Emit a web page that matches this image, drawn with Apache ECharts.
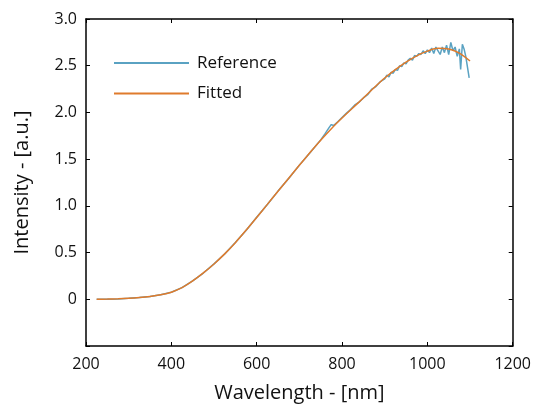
<!DOCTYPE html>
<html>
<head>
<meta charset="utf-8">
<script src="https://cdn.jsdelivr.net/npm/echarts@6/dist/echarts.min.js"></script>
<style>html,body{margin:0;padding:0;background:#fff}#c{width:534px;height:408px}</style>
</head>
<body>
<div id="c"></div>
<script>
var xTicks = [200, 400, 600, 800, 1000, 1200];
var yTicks = [-0.5, 0, 0.5, 1.0, 1.5, 2.0, 2.5, 3.0];

var fittedWl = [225,250,275,300,325,350,375,400,425,450,475,500,525,550,575,600,625,650,675,700,725,750,775,800,825,850,875,900,925,950,975,1000,1025,1050,1075,1100];
var fittedVal = [0.000,0.002,0.005,0.010,0.018,0.030,0.048,0.076,0.124,0.196,0.282,0.378,0.486,0.606,0.738,0.876,1.016,1.156,1.295,1.434,1.570,1.702,1.826,1.940,2.048,2.154,2.264,2.368,2.458,2.538,2.606,2.656,2.686,2.680,2.635,2.550];

var refWl = [225,250,275,300,325,350,375,400,425,450,475,500,525,550,575,600,625,650,675,700,725,750,760,770,775,780,790,800,810,820,830,840,850,860,870,880,890,900,905,910,915,920,925,930,935,940,945,950,955,960,965,970,975,980,985,990,995,1000,1005,1010,1015,1020,1025,1030,1035,1040,1045,1050,1055,1060,1065,1070,1075,1078,1082,1086,1090,1094,1098];
var refVal = [0.000,0.001,0.004,0.010,0.018,0.031,0.048,0.075,0.125,0.197,0.281,0.379,0.485,0.608,0.737,0.878,1.014,1.158,1.293,1.436,1.568,1.706,1.770,1.840,1.870,1.860,1.900,1.945,1.990,2.030,2.080,2.110,2.155,2.190,2.250,2.280,2.330,2.360,2.400,2.380,2.430,2.420,2.460,2.450,2.500,2.490,2.530,2.520,2.560,2.580,2.560,2.610,2.600,2.630,2.620,2.660,2.630,2.670,2.640,2.690,2.630,2.700,2.660,2.620,2.700,2.640,2.720,2.620,2.750,2.660,2.700,2.600,2.680,2.460,2.730,2.680,2.600,2.580,2.370];

function zip(a, b) { return a.map(function (x, i) { return [x, b[i]]; }); }

var FONT = 'Open Sans';
var chart = echarts.init(document.getElementById('c'), null, {renderer: 'canvas'});
var axisLine = {show: true, onZero: false, lineStyle: {color: '#000', width: 1.5}};
var axisTick = {show: true, inside: true, length: 4, lineStyle: {color: '#000', width: 1}};
chart.setOption({
  animation: false,
  backgroundColor: '#fff',
  grid: {left: 86, right: 19, top: 19, bottom: 57, containLabel: false},
  legend: {
    orient: 'vertical', left: 114, top: 54, padding: 0, itemWidth: 75, itemHeight: 2, itemGap: 12.6,
    icon: 'rect',
    textStyle: {fontFamily: FONT, fontSize: 17, lineHeight: 18, color: '#111', padding: [0, 0, 0, 3]},
    data: ['Reference', 'Fitted']
  },
  xAxis: [{
    type: 'value', min: 200, max: 1200, interval: 200,
    name: 'Wavelength - [nm]', nameLocation: 'middle', nameGap: 37,
    nameTextStyle: {fontFamily: FONT, fontSize: 20, color: '#111'},
    axisLine: axisLine, axisTick: axisTick, splitLine: {show: false},
    axisLabel: {fontFamily: FONT, fontSize: 16, color: '#111', margin: 10,
      formatter: function (v) { return String(v); }}
  }, {
    type: 'value', position: 'top', min: 200, max: 1200, interval: 200,
    axisLine: axisLine, axisTick: axisTick, splitLine: {show: false}, axisLabel: {show: false}
  }],
  yAxis: [{
    type: 'value', min: -0.5, max: 3.0, interval: 0.5,
    name: 'Intensity - [a.u.]', nameLocation: 'middle', nameGap: 54,
    nameTextStyle: {fontFamily: FONT, fontSize: 20, color: '#111'},
    axisLine: axisLine, axisTick: axisTick, splitLine: {show: false},
    axisLabel: {fontFamily: FONT, fontSize: 16, color: '#111', margin: 9,
      formatter: function (v) { if (v < 0) return ''; if (v === 0) return '0'; return v.toFixed(1); }}
  }, {
    type: 'value', position: 'right', min: -0.5, max: 3.0, interval: 0.5,
    axisLine: axisLine, axisTick: axisTick, splitLine: {show: false}, axisLabel: {show: false}
  }],
  series: [{
    name: 'Reference', type: 'line', data: zip(refWl, refVal), showSymbol: false, symbol: 'none',
    lineStyle: {color: '#5aa2c2', width: 1.5}, itemStyle: {color: '#5aa2c2'}
  }, {
    name: 'Fitted', type: 'line', data: zip(fittedWl, fittedVal), showSymbol: false, symbol: 'none', smooth: 0.3,
    lineStyle: {color: '#df7b2c', width: 1.5}, itemStyle: {color: '#df7b2c'}
  }]
});
</script>
</body>
</html>
